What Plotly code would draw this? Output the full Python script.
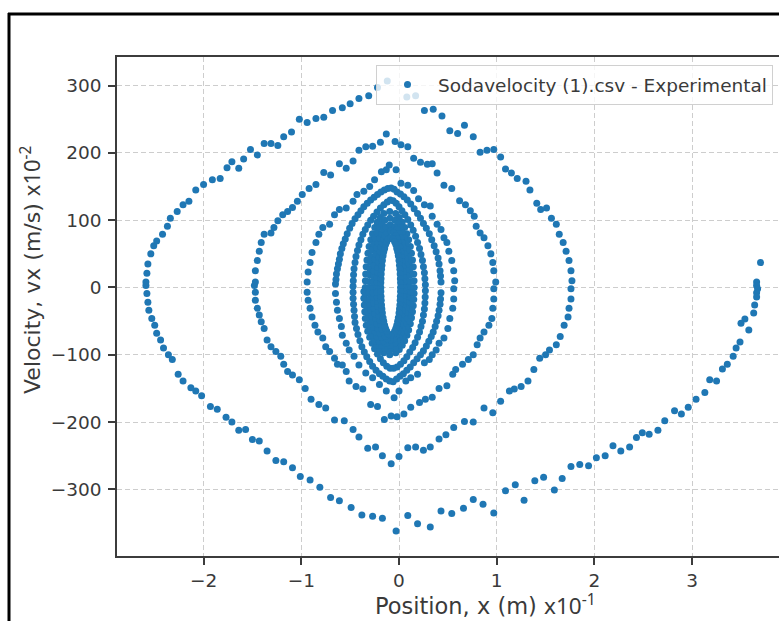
import plotly.graph_objects as go

# ---- data: position (x, units of 1e-1 m) and velocity (units of 1e-2 m/s) ----
# outer bottom arc (starts at right end)
arcA_x = [3.70, 3.66, 3.66, 3.67, 3.66, 3.66, 3.64, 3.63, 3.54, 3.50, 3.58, 3.49, 3.45, 3.42, 3.36, 3.31, 3.25, 3.18, 3.13, 3.04,
          2.96, 2.89, 2.82, 2.72, 2.65, 2.56, 2.49, 2.43, 2.36, 2.27, 2.19, 2.11, 2.02, 1.94, 1.85, 1.76, 1.67, 1.59, 1.48, 1.39,
          1.28, 1.19, 1.09, 0.97, 0.86, 0.76, 0.66, 0.54, 0.43, 0.32, 0.19, 0.09, -0.03, -0.17, -0.27, -0.38, -0.49, -0.61, -0.70, -0.81,
          -0.91, -1.01, -1.09, -1.18, -1.26, -1.35, -1.43, -1.50, -1.57, -1.64, -1.71, -1.77, -1.86, -1.93, -2.02, -2.08, -2.13, -2.21, -2.26, -2.32,
          -2.36, -2.41, -2.44, -2.48, -2.50, -2.53, -2.56, -2.57, -2.58, -2.59]
arcA_v = [37, 8, 3, -2, -8, -14, -26, -38, -47, -53, -63, -81, -90, -102, -114, -121, -139, -137, -156, -166,
          -178, -188, -183, -198, -212, -218, -216, -223, -237, -243, -235, -250, -253, -265, -263, -266, -284, -301, -282, -287,
          -316, -293, -302, -335, -322, -315, -328, -336, -332, -356, -351, -339, -362, -343, -340, -338, -327, -317, -312, -297,
          -286, -281, -268, -259, -257, -243, -228, -226, -211, -212, -200, -193, -181, -177, -161, -154, -149, -139, -129, -107,
          -100, -90, -78, -68, -56, -46, -34, -22, -9, 3]
# outer top arc
arcB_x = [-2.59, -2.58, -2.57, -2.54, -2.51, -2.48, -2.42, -2.37, -2.34, -2.27, -2.21, -2.15, -2.08, -2.00, -1.91, -1.83, -1.76, -1.71, -1.64,
          -1.59, -1.52, -1.45, -1.38, -1.31, -1.24, -1.18, -1.10, -1.02, -0.94, -0.85, -0.77, -0.68, -0.58, -0.50, -0.41, -0.31, -0.22, -0.12,
          0.08, 0.17, 0.26, 0.35, 0.44, 0.52, 0.60, 0.67, 0.76, 0.83, 0.90, 0.97, 1.04, 1.09, 1.15, 1.21, 1.30, 1.34, 1.41, 1.45,
          1.51, 1.56, 1.61, 1.64, 1.68, 1.71, 1.74, 1.76, 1.77]
arcB_v = [8, 21, 35, 50, 62, 69, 79, 91, 103, 113, 123, 128, 145, 153, 160, 162, 178, 187, 177,
          191, 205, 197, 214, 214, 211, 224, 231, 250, 245, 251, 253, 263, 267, 273, 281, 285, 297, 307,
          283, 285, 263, 265, 255, 233, 229, 241, 224, 201, 204, 205, 194, 176, 170, 162, 158, 145, 125, 116,
          118, 103, 94, 79, 67, 54, 40, 25, 10]
# second bottom arc
arcC_x = [1.76, 1.76, 1.74, 1.73, 1.69, 1.65, 1.61, 1.54, 1.50, 1.44, 1.38, 1.32, 1.25, 1.18, 1.13, 1.04, 0.96, 0.87, 0.76, 0.67,
          0.56, 0.48, 0.41, 0.32, 0.25, 0.17, 0.09, 0.00, -0.08, -0.17, -0.24, -0.32, -0.41, -0.47, -0.56, -0.66, -0.75, -0.82, -0.90, -0.96,
          -1.02, -1.09, -1.14, -1.18, -1.21, -1.26, -1.31, -1.35, -1.38, -1.41, -1.43, -1.45, -1.47, -1.47, -1.48]
arcC_v = [-2, -17, -31, -44, -56, -73, -85, -93, -100, -105, -122, -139, -147, -151, -154, -169, -186, -179, -200, -199,
          -208, -219, -225, -237, -242, -237, -238, -251, -262, -250, -237, -239, -222, -211, -198, -197, -179, -174, -166, -150,
          -137, -130, -125, -114, -102, -95, -88, -78, -61, -51, -41, -31, -19, -7, 3]
# second top arc
arcD_x = [-1.47, -1.47, -1.45, -1.43, -1.41, -1.38, -1.31, -1.28, -1.24, -1.19, -1.14, -1.09, -1.04, -0.99, -0.92, -0.85, -0.77, -0.70, -0.61, -0.54,
          -0.47, -0.41, -0.34, -0.27, -0.19, -0.13, -0.04, 0.02, 0.09, 0.15, 0.22, 0.29, 0.34, 0.39, 0.46, 0.54, 0.62, 0.68, 0.73, 0.77,
          0.79, 0.83, 0.87, 0.91, 0.94, 0.96, 0.97, 0.99]
arcD_v = [8, 25, 40, 54, 67, 79, 81, 89, 99, 108, 113, 119, 128, 138, 147, 153, 171, 167, 184, 177,
          188, 204, 209, 210, 216, 228, 217, 212, 209, 192, 186, 183, 184, 170, 152, 147, 129, 123, 114, 106,
          91, 81, 74, 62, 50, 37, 25, 8]
# third bottom arc
arcE_x = [0.97, 0.97, 0.96, 0.95, 0.92, 0.87, 0.83, 0.80, 0.76, 0.71, 0.65, 0.58, 0.55, 0.49, 0.41, 0.34, 0.27, 0.21, 0.12, 0.05,
          -0.02, -0.08, -0.15, -0.22, -0.29, -0.37, -0.44, -0.51, -0.54, -0.58, -0.63, -0.66, -0.71, -0.75, -0.78, -0.83, -0.86, -0.89, -0.91, -0.93, -0.94]
arcE_v = [-2, -17, -31, -46, -56, -66, -75, -85, -100, -107, -114, -122, -129, -146, -150, -163, -166, -171, -178, -188,
          -192, -191, -196, -177, -174, -151, -147, -139, -125, -115, -114, -105, -95, -88, -75, -66, -56, -44, -31, -19, -7]
# third top arc
arcF_x = [-0.94, -0.93, -0.91, -0.89, -0.85, -0.82, -0.78, -0.71, -0.66, -0.61, -0.54, -0.47, -0.43, -0.36, -0.30, -0.25, -0.18, -0.13, -0.10, -0.03,
          0.02, 0.09, 0.15, 0.20, 0.26, 0.32, 0.34, 0.39, 0.43, 0.46, 0.49, 0.51, 0.54, 0.56, 0.57]
arcF_v = [8, 23, 37, 52, 67, 79, 89, 94, 108, 116, 118, 128, 138, 143, 150, 160, 172, 175, 182, 175,
          155, 152, 144, 132, 123, 121, 106, 94, 86, 74, 67, 54, 40, 25, 10]
# fourth bottom arc
arcG_x = [0.56, 0.56, 0.55, 0.52, 0.50, 0.46, 0.41, 0.38, 0.34, 0.31, 0.26, 0.19, 0.12, 0.07, 0.00, -0.05, -0.13, -0.20, -0.27, -0.34,
          -0.41, -0.46, -0.51, -0.54, -0.58, -0.59, -0.61, -0.63, -0.64, -0.65]
arcG_v = [-2, -17, -31, -46, -61, -75, -83, -93, -100, -107, -112, -129, -134, -139, -154, -164, -154, -144, -134, -127,
          -115, -102, -93, -83, -71, -58, -46, -34, -22, -9]
# fourth top arc
arcH_x = [-0.65, -0.645, -0.64, -0.63, -0.62, -0.61, -0.60, -0.585, -0.57, -0.55, -0.53, -0.505, -0.48, -0.45, -0.42, -0.39, -0.36, -0.325, -0.29, -0.255,
          -0.22, -0.185, -0.15, -0.115, -0.08, -0.05, -0.02, 0.015, 0.05, 0.085, 0.12, 0.155, 0.19, 0.22, 0.25, 0.28, 0.31, 0.335, 0.36, 0.38,
          0.40, 0.41, 0.42, 0.425, 0.43]
arcH_v = [5, 12, 20, 28, 35, 42, 50, 58, 65, 72, 80, 88, 95, 102, 108, 114, 120, 125, 130, 134,
          138, 142, 145, 147, 148, 146, 142, 139, 135, 130, 124, 117, 110, 103, 95, 88, 80, 71, 62, 53,
          44, 35, 25, 17, 8]
# fifth bottom arc
arcI_x = [0.43, 0.425, 0.42, 0.41, 0.40, 0.385, 0.37, 0.35, 0.33, 0.305, 0.28, 0.25, 0.22, 0.185, 0.15, 0.115, 0.08, 0.045, 0.01, -0.025,
          -0.06, -0.095, -0.13, -0.165, -0.20, -0.235, -0.27, -0.30, -0.33, -0.355, -0.38, -0.40, -0.42, -0.435, -0.45, -0.455, -0.46, -0.465, -0.47, -0.47]
arcI_v = [-8, -17, -25, -34, -42, -50, -58, -66, -73, -80, -87, -94, -100, -106, -112, -118, -123, -128, -132, -136,
          -140, -139, -136, -132, -128, -123, -117, -110, -103, -96, -88, -79, -70, -61, -52, -43, -34, -25, -16, -7]
# fifth top arc
arcJ_x = [-0.47, -0.468, -0.465, -0.46, -0.45, -0.44, -0.425, -0.41, -0.39, -0.37, -0.345, -0.32, -0.29, -0.26, -0.225, -0.19, -0.155, -0.12, -0.09, -0.06,
          -0.03, 0.00, 0.03, 0.06, 0.09, 0.12, 0.145, 0.17, 0.19, 0.21, 0.225, 0.24, 0.25, 0.26, 0.265, 0.27]
arcJ_v = [2, 10, 19, 28, 37, 46, 55, 63, 71, 79, 86, 93, 100, 106, 112, 118, 123, 127, 130, 129,
          125, 120, 114, 108, 101, 93, 85, 76, 67, 58, 49, 40, 31, 22, 13, 4]
# sixth bottom arc
arcK_x = [0.27, 0.268, 0.265, 0.26, 0.25, 0.24, 0.225, 0.21, 0.19, 0.165, 0.14, 0.11, 0.08, 0.05, 0.015, -0.02, -0.055, -0.09, -0.125, -0.16,
          -0.19, -0.22, -0.25, -0.275, -0.30, -0.32, -0.335, -0.345, -0.35, -0.355, -0.36, -0.36]
arcK_v = [-5, -14, -23, -32, -41, -50, -58, -66, -74, -82, -89, -96, -103, -109, -114, -118, -120, -120, -117, -112,
          -106, -99, -91, -83, -74, -65, -56, -46, -36, -26, -16, -6]

# dense centre: innermost loops, each read as left-side x, right-side x at matching upper / lower velocities
loop1_left = [-0.345, -0.344, -0.341, -0.336, -0.328, -0.318, -0.306, -0.289, -0.271, -0.248, -0.223, -0.193, -0.156, -0.095]
loop1_right = [0.155, 0.154, 0.151, 0.146, 0.138, 0.128, 0.116, 0.099, 0.081, 0.058, 0.033, 0.003, -0.034, -0.095]
loop1_up = [0, 10, 20, 31, 41, 51, 61, 71, 80, 89, 97, 104, 110, 113]
loop1_down = [0, -9, -18, -27, -36, -45, -54, -63, -71, -79, -86, -92, -97, -100]
loop2_left = [-0.305, -0.304, -0.302, -0.297, -0.291, -0.282, -0.272, -0.258, -0.242, -0.223, -0.201, -0.176, -0.145, -0.093]
loop2_right = [0.119, 0.118, 0.116, 0.111, 0.105, 0.096, 0.086, 0.072, 0.056, 0.037, 0.015, -0.010, -0.041, -0.093]
loop2_up = [0, 9, 19, 28, 37, 46, 56, 65, 73, 81, 89, 95, 100, 103]
loop2_down = [0, -8, -17, -25, -33, -42, -50, -59, -66, -73, -80, -86, -90, -93]
loop3_left = [-0.265, -0.264, -0.262, -0.259, -0.253, -0.246, -0.237, -0.226, -0.213, -0.197, -0.179, -0.159, -0.133, -0.090]
loop3_right = [0.085, 0.084, 0.082, 0.079, 0.073, 0.066, 0.057, 0.046, 0.033, 0.017, -0.001, -0.021, -0.047, -0.090]
loop3_up = [0, 8, 17, 25, 33, 42, 50, 59, 66, 73, 80, 86, 90, 93]
loop3_down = [0, -8, -15, -23, -31, -39, -46, -54, -61, -68, -74, -79, -83, -86]
loop4_left = [-0.225, -0.224, -0.223, -0.220, -0.216, -0.210, -0.203, -0.194, -0.184, -0.172, -0.158, -0.142, -0.121, -0.088]
loop4_right = [0.049, 0.048, 0.047, 0.044, 0.040, 0.034, 0.027, 0.018, 0.008, -0.004, -0.018, -0.034, -0.055, -0.088]
loop4_up = [0, 8, 15, 23, 30, 38, 45, 53, 60, 66, 72, 77, 81, 84]
loop4_down = [0, -7, -14, -21, -28, -35, -42, -49, -55, -62, -67, -72, -76, -78]
loop5_left = [-0.186, -0.186, -0.184, -0.182, -0.179, -0.175, -0.170, -0.163, -0.156, -0.147, -0.137, -0.125, -0.110, -0.085]
loop5_right = [0.016, 0.016, 0.014, 0.012, 0.009, 0.005, 0.000, -0.007, -0.014, -0.023, -0.033, -0.045, -0.060, -0.085]
loop5_up = [0, 7, 13, 20, 27, 33, 40, 47, 53, 58, 64, 68, 72, 74]
loop5_down = [0, -6, -13, -19, -26, -32, -38, -45, -50, -56, -61, -65, -69, -71]

series_name = "Sodavelocity (1).csv - Experimental"
x_tick_vals = [-2, -1, 0, 1, 2, 3]
x_tick_text = ["\u22122", "\u22121", "0", "1", "2", "3"]
y_tick_vals = [-300, -200, -100, 0, 100, 200, 300]
y_tick_text = ["\u2212300", "\u2212200", "\u2212100", "0", "100", "200", "300"]

arcs = [(arcA_x, arcA_v), (arcB_x, arcB_v), (arcC_x, arcC_v), (arcD_x, arcD_v), (arcE_x, arcE_v),
        (arcF_x, arcF_v), (arcG_x, arcG_v), (arcH_x, arcH_v), (arcI_x, arcI_v), (arcJ_x, arcJ_v),
        (arcK_x, arcK_v)]
loops = [(loop1_left, loop1_right, loop1_up, loop1_down), (loop2_left, loop2_right, loop2_up, loop2_down),
         (loop3_left, loop3_right, loop3_up, loop3_down), (loop4_left, loop4_right, loop4_up, loop4_down),
         (loop5_left, loop5_right, loop5_up, loop5_down)]

all_x, all_v = [], []
for px, pv in arcs:
    assert len(px) == len(pv), (len(px), len(pv))
    all_x += px
    all_v += pv
for lft, rgt, up, dn in loops:
    n = len(lft)
    assert len(rgt) == n and len(up) == n and len(dn) == n
    # up the left side, down the right side, on down to the bottom, back up the left side
    all_x += lft + rgt[-2::-1] + rgt[1:] + lft[-2:0:-1]
    all_v += up + up[-2::-1] + dn[1:] + dn[-2:0:-1]

W, H = 779, 621
ML, MR, MT, MB = 117, 0, 57, 65
pw, ph = W - ML - MR, H - MT - MB

def px_to_paper_x(p):
    return (p - ML) / pw

def py_to_paper_y(p):
    return (H - MB - p) / ph

fig = go.Figure()
fig.add_trace(go.Scatter(
    x=all_x, y=all_v, mode="markers", name=series_name,
    marker=dict(color="#1f77b4", size=7, line=dict(width=0)),
    showlegend=True,
))

axis_common = dict(
    showline=True, linecolor="#3c3c3c", linewidth=1.5,
    ticks="outside", ticklen=7, tickwidth=1.5, tickcolor="#3c3c3c",
    showgrid=True, gridcolor="#cdcdcd", gridwidth=1, griddash="5px,3px",
    zeroline=False,
    tickfont=dict(family="DejaVu Sans", size=18.5, color="#3a3a3a"),
)

fig.update_layout(
    width=W, height=H,
    margin=dict(l=ML, r=MR, t=MT, b=MB, pad=0),
    paper_bgcolor="white", plot_bgcolor="white",
    xaxis=dict(range=[-2.886, 3.889], tickvals=x_tick_vals, ticktext=x_tick_text,
               mirror=True, **axis_common),
    yaxis=dict(range=[-399, 342.5], tickvals=y_tick_vals, ticktext=y_tick_text,
               mirror=False, ticklabelstandoff=3, **axis_common),
    showlegend=True,
    legend=dict(
        x=px_to_paper_x(376), y=py_to_paper_y(65), xanchor="left", yanchor="top",
        bgcolor="rgba(255,255,255,0.8)", bordercolor="#d0d0d0", borderwidth=1,
        font=dict(family="DejaVu Sans", size=18.5, color="#3a3a3a"),
        itemwidth=51,
    ),
    annotations=[
        dict(text="Velocity, vx (m/s) <span style=\"font-family:'Noto Sans'\">x10<sup>-2</sup></span>",
             xref="paper", yref="paper", x=px_to_paper_x(30), y=py_to_paper_y(270),
             xanchor="center", yanchor="middle", textangle=-90, showarrow=False,
             font=dict(family="DejaVu Sans", size=22, color="#3a3a3a")),
        dict(text="Position, x (m) <span style=\"font-family:'Noto Sans'\">x10<sup>-1</sup></span>",
             xref="paper", yref="paper", x=px_to_paper_x(485), y=py_to_paper_y(604),
             xanchor="center", yanchor="middle", showarrow=False,
             font=dict(family="DejaVu Sans", size=22.5, color="#3a3a3a")),
    ],
    shapes=[
        dict(type="line", xref="paper", yref="paper",
             x0=px_to_paper_x(9), x1=px_to_paper_x(9), y0=py_to_paper_y(13), y1=py_to_paper_y(621),
             line=dict(color="black", width=3)),
        dict(type="line", xref="paper", yref="paper",
             x0=px_to_paper_x(8), x1=px_to_paper_x(779), y0=py_to_paper_y(14), y1=py_to_paper_y(14),
             line=dict(color="black", width=3)),
    ],
)

fig.write_html("out.html")
